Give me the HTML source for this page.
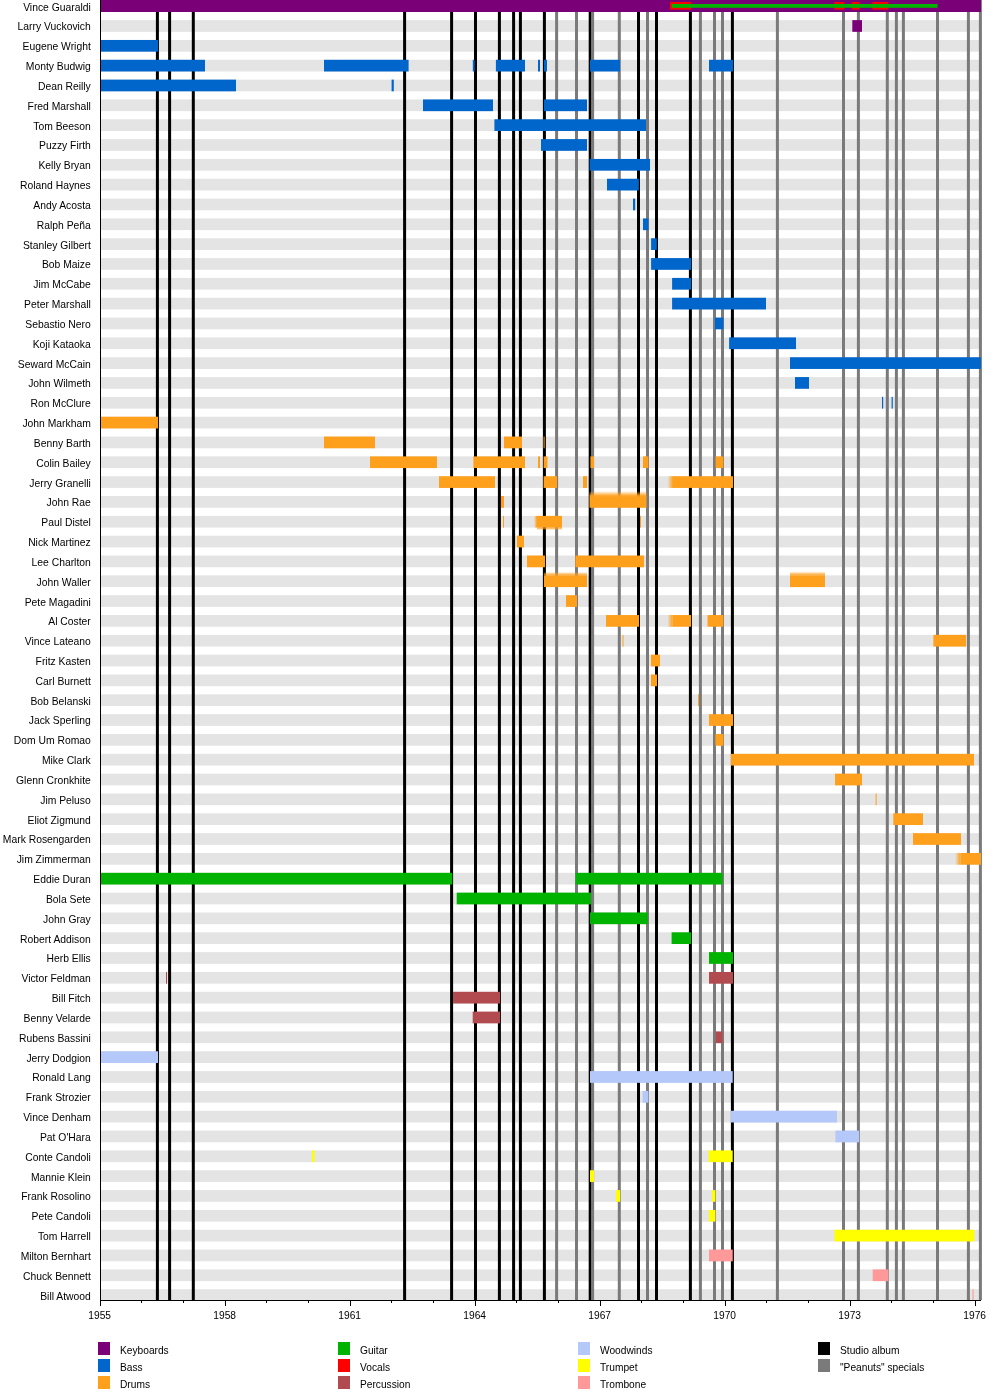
<!DOCTYPE html>
<html><head><meta charset="utf-8"><title>Vince Guaraldi Trio members timeline</title>
<style>
html,body{margin:0;padding:0;background:#fff;}
svg{display:block;will-change:transform;}
text{font-family:"Liberation Sans",Arial,sans-serif;fill:#000;}
</style></head><body>
<svg width="1000" height="1400" viewBox="0 0 1000 1400">
<rect x="0" y="0" width="1000" height="1400" fill="#fff"/>
<g fill="#e4e4e4">
<rect x="101" y="0.3" width="878" height="11.7"/>
<rect x="101" y="20.13" width="878" height="11.7"/>
<rect x="101" y="39.96" width="878" height="11.7"/>
<rect x="101" y="59.79" width="878" height="11.7"/>
<rect x="101" y="79.62" width="878" height="11.7"/>
<rect x="101" y="99.45" width="878" height="11.7"/>
<rect x="101" y="119.28" width="878" height="11.7"/>
<rect x="101" y="139.11" width="878" height="11.7"/>
<rect x="101" y="158.94" width="878" height="11.7"/>
<rect x="101" y="178.77" width="878" height="11.7"/>
<rect x="101" y="198.6" width="878" height="11.7"/>
<rect x="101" y="218.43" width="878" height="11.7"/>
<rect x="101" y="238.26" width="878" height="11.7"/>
<rect x="101" y="258.09" width="878" height="11.7"/>
<rect x="101" y="277.92" width="878" height="11.7"/>
<rect x="101" y="297.75" width="878" height="11.7"/>
<rect x="101" y="317.58" width="878" height="11.7"/>
<rect x="101" y="337.41" width="878" height="11.7"/>
<rect x="101" y="357.24" width="878" height="11.7"/>
<rect x="101" y="377.07" width="878" height="11.7"/>
<rect x="101" y="396.9" width="878" height="11.7"/>
<rect x="101" y="416.73" width="878" height="11.7"/>
<rect x="101" y="436.56" width="878" height="11.7"/>
<rect x="101" y="456.39" width="878" height="11.7"/>
<rect x="101" y="476.22" width="878" height="11.7"/>
<rect x="101" y="496.05" width="878" height="11.7"/>
<rect x="101" y="515.88" width="878" height="11.7"/>
<rect x="101" y="535.71" width="878" height="11.7"/>
<rect x="101" y="555.54" width="878" height="11.7"/>
<rect x="101" y="575.37" width="878" height="11.7"/>
<rect x="101" y="595.2" width="878" height="11.7"/>
<rect x="101" y="615.03" width="878" height="11.7"/>
<rect x="101" y="634.86" width="878" height="11.7"/>
<rect x="101" y="654.69" width="878" height="11.7"/>
<rect x="101" y="674.52" width="878" height="11.7"/>
<rect x="101" y="694.35" width="878" height="11.7"/>
<rect x="101" y="714.18" width="878" height="11.7"/>
<rect x="101" y="734.01" width="878" height="11.7"/>
<rect x="101" y="753.84" width="878" height="11.7"/>
<rect x="101" y="773.67" width="878" height="11.7"/>
<rect x="101" y="793.5" width="878" height="11.7"/>
<rect x="101" y="813.33" width="878" height="11.7"/>
<rect x="101" y="833.16" width="878" height="11.7"/>
<rect x="101" y="852.99" width="878" height="11.7"/>
<rect x="101" y="872.82" width="878" height="11.7"/>
<rect x="101" y="892.65" width="878" height="11.7"/>
<rect x="101" y="912.48" width="878" height="11.7"/>
<rect x="101" y="932.31" width="878" height="11.7"/>
<rect x="101" y="952.14" width="878" height="11.7"/>
<rect x="101" y="971.97" width="878" height="11.7"/>
<rect x="101" y="991.8" width="878" height="11.7"/>
<rect x="101" y="1011.63" width="878" height="11.7"/>
<rect x="101" y="1031.46" width="878" height="11.7"/>
<rect x="101" y="1051.29" width="878" height="11.7"/>
<rect x="101" y="1071.12" width="878" height="11.7"/>
<rect x="101" y="1090.95" width="878" height="11.7"/>
<rect x="101" y="1110.78" width="878" height="11.7"/>
<rect x="101" y="1130.61" width="878" height="11.7"/>
<rect x="101" y="1150.44" width="878" height="11.7"/>
<rect x="101" y="1170.27" width="878" height="11.7"/>
<rect x="101" y="1190.1" width="878" height="11.7"/>
<rect x="101" y="1209.93" width="878" height="11.7"/>
<rect x="101" y="1229.76" width="878" height="11.7"/>
<rect x="101" y="1249.59" width="878" height="11.7"/>
<rect x="101" y="1269.42" width="878" height="11.7"/>
<rect x="101" y="1289.25" width="878" height="11.7"/>
</g>
<g fill="#000">
<rect x="155.9" y="0" width="3" height="1300"/>
<rect x="168.1" y="0" width="3" height="1300"/>
<rect x="191.8" y="0" width="3" height="1300"/>
<rect x="403.1" y="0" width="3" height="1300"/>
<rect x="450.1" y="0" width="3" height="1300"/>
<rect x="474" y="0" width="3" height="1300"/>
<rect x="497.9" y="0" width="3" height="1300"/>
<rect x="512.1" y="0" width="3" height="1300"/>
<rect x="518.9" y="0" width="3" height="1300"/>
<rect x="542.9" y="0" width="3" height="1300"/>
<rect x="588.7" y="0" width="3" height="1300"/>
<rect x="637" y="0" width="3" height="1300"/>
<rect x="655" y="0" width="3" height="1300"/>
<rect x="688.9" y="0" width="3" height="1300"/>
<rect x="730.9" y="0" width="3" height="1300"/>
</g>
<g fill="#7a7a7a">
<rect x="555.1" y="0" width="3" height="1300"/>
<rect x="575" y="0" width="3" height="1300"/>
<rect x="591.1" y="0" width="3" height="1300"/>
<rect x="617.8" y="0" width="3" height="1300"/>
<rect x="646" y="0" width="3" height="1300"/>
<rect x="698.9" y="0" width="3" height="1300"/>
<rect x="713" y="0" width="3" height="1300"/>
<rect x="721" y="0" width="3" height="1300"/>
<rect x="775.9" y="0" width="3" height="1300"/>
<rect x="842" y="0" width="3" height="1300"/>
<rect x="856.9" y="0" width="3" height="1300"/>
<rect x="885.8" y="0" width="3" height="1300"/>
<rect x="894.9" y="0" width="3" height="1300"/>
<rect x="901.9" y="0" width="3" height="1300"/>
<rect x="936" y="0" width="3" height="1300"/>
<rect x="966.9" y="0" width="3" height="1300"/>
<rect x="978.9" y="0" width="3" height="1300"/>
</g>
<rect x="101" y="0" width="880" height="12" fill="#7a0078"/>
<rect x="852.3" y="20.13" width="9.7" height="11.7" fill="#7a0078"/>
<rect x="101" y="39.96" width="57" height="11.7" fill="#0066cc"/>
<rect x="101" y="59.79" width="104" height="11.7" fill="#0066cc"/>
<rect x="324" y="59.79" width="84.6" height="11.7" fill="#0066cc"/>
<rect x="472.8" y="59.79" width="1.8" height="11.7" fill="#0066cc"/>
<rect x="495.9" y="59.79" width="29.1" height="11.7" fill="#0066cc"/>
<rect x="538" y="59.79" width="2" height="11.7" fill="#0066cc"/>
<rect x="544" y="59.79" width="3" height="11.7" fill="#0066cc"/>
<rect x="590" y="59.79" width="30" height="11.7" fill="#0066cc"/>
<rect x="709" y="59.79" width="24" height="11.7" fill="#0066cc"/>
<rect x="101" y="79.62" width="135" height="11.7" fill="#0066cc"/>
<rect x="391.6" y="79.62" width="2.2" height="11.7" fill="#0066cc"/>
<rect x="423" y="99.45" width="70" height="11.7" fill="#0066cc"/>
<rect x="544" y="99.45" width="43" height="11.7" fill="#0066cc"/>
<rect x="494.4" y="119.28" width="151.6" height="11.7" fill="#0066cc"/>
<rect x="541" y="139.11" width="46" height="11.7" fill="#0066cc"/>
<rect x="589.6" y="158.94" width="60.4" height="11.7" fill="#0066cc"/>
<rect x="607" y="178.77" width="31.8" height="11.7" fill="#0066cc"/>
<rect x="633" y="198.6" width="2.2" height="11.7" fill="#0066cc"/>
<rect x="643" y="218.43" width="5.4" height="11.7" fill="#0066cc"/>
<rect x="651.1" y="238.26" width="5.7" height="11.7" fill="#0066cc"/>
<rect x="651.1" y="258.09" width="39.9" height="11.7" fill="#0066cc"/>
<rect x="672.1" y="277.92" width="18.9" height="11.7" fill="#0066cc"/>
<rect x="672.1" y="297.75" width="93.9" height="11.7" fill="#0066cc"/>
<rect x="715" y="317.58" width="8.4" height="11.7" fill="#0066cc"/>
<rect x="729.1" y="337.41" width="66.9" height="11.7" fill="#0066cc"/>
<rect x="790" y="357.24" width="191" height="11.7" fill="#0066cc"/>
<rect x="795" y="377.07" width="14" height="11.7" fill="#0066cc"/>
<rect x="882" y="396.9" width="1.2" height="11.7" fill="#0066cc"/>
<rect x="891.6" y="396.9" width="1.2" height="11.7" fill="#0066cc"/>
<rect x="101" y="416.73" width="57" height="11.7" fill="#ffa01c"/>
<rect x="324" y="436.56" width="51" height="11.7" fill="#ffa01c"/>
<rect x="504" y="436.56" width="18" height="11.7" fill="#ffa01c"/>
<rect x="543.6" y="436.56" width="1" height="11.7" fill="#ffa01c"/>
<rect x="370" y="456.39" width="67" height="11.7" fill="#ffa01c"/>
<rect x="473.4" y="456.39" width="51.6" height="11.7" fill="#ffa01c"/>
<rect x="538" y="456.39" width="2" height="11.7" fill="#ffa01c"/>
<rect x="543.6" y="456.39" width="3.9" height="11.7" fill="#ffa01c"/>
<rect x="590.4" y="456.39" width="3.6" height="11.7" fill="#ffa01c"/>
<rect x="643" y="456.39" width="5.4" height="11.7" fill="#ffa01c"/>
<rect x="715.6" y="456.39" width="7.8" height="11.7" fill="#ffa01c"/>
<rect x="439" y="476.22" width="56" height="11.7" fill="#ffa01c"/>
<rect x="543.6" y="476.22" width="13.4" height="11.7" fill="#ffa01c"/>
<rect x="583" y="476.22" width="4" height="11.7" fill="#ffa01c"/>
<rect x="673" y="476.22" width="60" height="11.7" fill="#ffa01c"/>
<rect x="501" y="496.05" width="3" height="11.7" fill="#ffa01c"/>
<rect x="589.5" y="496.05" width="57" height="11.7" fill="#ffa01c"/>
<rect x="503" y="515.88" width="1" height="11.7" fill="#ffa01c"/>
<rect x="537" y="515.88" width="25" height="11.7" fill="#ffa01c"/>
<rect x="640" y="515.88" width="1" height="11.7" fill="#ffa01c"/>
<rect x="517" y="535.71" width="7" height="11.7" fill="#ffa01c"/>
<rect x="527" y="555.54" width="18" height="11.7" fill="#ffa01c"/>
<rect x="575.4" y="555.54" width="68.6" height="11.7" fill="#ffa01c"/>
<rect x="544" y="575.37" width="43" height="11.7" fill="#ffa01c"/>
<rect x="790" y="575.37" width="35" height="11.7" fill="#ffa01c"/>
<rect x="566" y="595.2" width="11" height="11.7" fill="#ffa01c"/>
<rect x="606" y="615.03" width="33" height="11.7" fill="#ffa01c"/>
<rect x="672.5" y="615.03" width="18.5" height="11.7" fill="#ffa01c"/>
<rect x="707.5" y="615.03" width="15.9" height="11.7" fill="#ffa01c"/>
<rect x="622.5" y="634.86" width="1" height="11.7" fill="#ffa01c"/>
<rect x="933.4" y="634.86" width="32.6" height="11.7" fill="#ffa01c"/>
<rect x="651" y="654.69" width="9" height="11.7" fill="#ffa01c"/>
<rect x="651" y="674.52" width="6" height="11.7" fill="#ffa01c"/>
<rect x="698" y="694.35" width="1" height="11.7" fill="#ffa01c"/>
<rect x="709" y="714.18" width="24" height="11.7" fill="#ffa01c"/>
<rect x="715.4" y="734.01" width="8.1" height="11.7" fill="#ffa01c"/>
<rect x="731" y="753.84" width="243" height="11.7" fill="#ffa01c"/>
<rect x="835" y="773.67" width="27" height="11.7" fill="#ffa01c"/>
<rect x="875.6" y="793.5" width="1" height="11.7" fill="#ffa01c"/>
<rect x="893.3" y="813.33" width="29.7" height="11.7" fill="#ffa01c"/>
<rect x="913" y="833.16" width="48" height="11.7" fill="#ffa01c"/>
<rect x="960.5" y="852.99" width="20.5" height="11.7" fill="#ffa01c"/>
<rect x="101" y="872.82" width="351.3" height="11.7" fill="#00b300"/>
<rect x="575.7" y="872.82" width="146.9" height="11.7" fill="#00b300"/>
<rect x="456.7" y="892.65" width="134.3" height="11.7" fill="#00b300"/>
<rect x="590" y="912.48" width="57.8" height="11.7" fill="#00b300"/>
<rect x="671.6" y="932.31" width="19.4" height="11.7" fill="#00b300"/>
<rect x="709" y="952.14" width="24" height="11.7" fill="#00b300"/>
<rect x="166" y="971.97" width="1" height="11.7" fill="#b24b50"/>
<rect x="709" y="971.97" width="24" height="11.7" fill="#b24b50"/>
<rect x="453" y="991.8" width="47" height="11.7" fill="#b24b50"/>
<rect x="472.7" y="1011.63" width="27.3" height="11.7" fill="#b24b50"/>
<rect x="715.7" y="1031.46" width="6.8" height="11.7" fill="#b24b50"/>
<rect x="101" y="1051.29" width="57" height="11.7" fill="#b4c8fa"/>
<rect x="590" y="1071.12" width="142.7" height="11.7" fill="#b4c8fa"/>
<rect x="642.6" y="1090.95" width="5.8" height="11.7" fill="#b4c8fa"/>
<rect x="731" y="1110.78" width="106" height="11.7" fill="#b4c8fa"/>
<rect x="835.4" y="1130.61" width="23.8" height="11.7" fill="#b4c8fa"/>
<rect x="312" y="1150.44" width="2.5" height="11.7" fill="#ffff00"/>
<rect x="708.6" y="1150.44" width="24.1" height="11.7" fill="#ffff00"/>
<rect x="590" y="1170.27" width="4" height="11.7" fill="#ffff00"/>
<rect x="616" y="1190.1" width="4.2" height="11.7" fill="#ffff00"/>
<rect x="712" y="1190.1" width="3.4" height="11.7" fill="#ffff00"/>
<rect x="709" y="1209.93" width="6.4" height="11.7" fill="#ffff00"/>
<rect x="834.5" y="1229.76" width="139.9" height="11.7" fill="#ffff00"/>
<rect x="709" y="1249.59" width="23.7" height="11.7" fill="#ff9999"/>
<rect x="872.7" y="1269.42" width="15.7" height="11.7" fill="#ff9999"/>
<rect x="972.5" y="1289.25" width="1.1" height="11.7" fill="#ff9999"/>
<defs><linearGradient id="gL_kb" x1="0" y1="0" x2="1" y2="0"><stop offset="0" stop-color="#7a0078" stop-opacity="0"/><stop offset="1" stop-color="#7a0078" stop-opacity="1"/></linearGradient><linearGradient id="gT_kb" x1="0" y1="0" x2="0" y2="1"><stop offset="0" stop-color="#7a0078" stop-opacity="0"/><stop offset="1" stop-color="#7a0078" stop-opacity="1"/></linearGradient><linearGradient id="gB_kb" x1="0" y1="1" x2="0" y2="0"><stop offset="0" stop-color="#7a0078" stop-opacity="0"/><stop offset="1" stop-color="#7a0078" stop-opacity="1"/></linearGradient><linearGradient id="gL_bass" x1="0" y1="0" x2="1" y2="0"><stop offset="0" stop-color="#0066cc" stop-opacity="0"/><stop offset="1" stop-color="#0066cc" stop-opacity="1"/></linearGradient><linearGradient id="gT_bass" x1="0" y1="0" x2="0" y2="1"><stop offset="0" stop-color="#0066cc" stop-opacity="0"/><stop offset="1" stop-color="#0066cc" stop-opacity="1"/></linearGradient><linearGradient id="gB_bass" x1="0" y1="1" x2="0" y2="0"><stop offset="0" stop-color="#0066cc" stop-opacity="0"/><stop offset="1" stop-color="#0066cc" stop-opacity="1"/></linearGradient><linearGradient id="gL_drums" x1="0" y1="0" x2="1" y2="0"><stop offset="0" stop-color="#ffa01c" stop-opacity="0"/><stop offset="1" stop-color="#ffa01c" stop-opacity="1"/></linearGradient><linearGradient id="gT_drums" x1="0" y1="0" x2="0" y2="1"><stop offset="0" stop-color="#ffa01c" stop-opacity="0"/><stop offset="1" stop-color="#ffa01c" stop-opacity="1"/></linearGradient><linearGradient id="gB_drums" x1="0" y1="1" x2="0" y2="0"><stop offset="0" stop-color="#ffa01c" stop-opacity="0"/><stop offset="1" stop-color="#ffa01c" stop-opacity="1"/></linearGradient><linearGradient id="gL_guitar" x1="0" y1="0" x2="1" y2="0"><stop offset="0" stop-color="#00b300" stop-opacity="0"/><stop offset="1" stop-color="#00b300" stop-opacity="1"/></linearGradient><linearGradient id="gT_guitar" x1="0" y1="0" x2="0" y2="1"><stop offset="0" stop-color="#00b300" stop-opacity="0"/><stop offset="1" stop-color="#00b300" stop-opacity="1"/></linearGradient><linearGradient id="gB_guitar" x1="0" y1="1" x2="0" y2="0"><stop offset="0" stop-color="#00b300" stop-opacity="0"/><stop offset="1" stop-color="#00b300" stop-opacity="1"/></linearGradient><linearGradient id="gL_vocals" x1="0" y1="0" x2="1" y2="0"><stop offset="0" stop-color="#ff0000" stop-opacity="0"/><stop offset="1" stop-color="#ff0000" stop-opacity="1"/></linearGradient><linearGradient id="gT_vocals" x1="0" y1="0" x2="0" y2="1"><stop offset="0" stop-color="#ff0000" stop-opacity="0"/><stop offset="1" stop-color="#ff0000" stop-opacity="1"/></linearGradient><linearGradient id="gB_vocals" x1="0" y1="1" x2="0" y2="0"><stop offset="0" stop-color="#ff0000" stop-opacity="0"/><stop offset="1" stop-color="#ff0000" stop-opacity="1"/></linearGradient><linearGradient id="gL_perc" x1="0" y1="0" x2="1" y2="0"><stop offset="0" stop-color="#b24b50" stop-opacity="0"/><stop offset="1" stop-color="#b24b50" stop-opacity="1"/></linearGradient><linearGradient id="gT_perc" x1="0" y1="0" x2="0" y2="1"><stop offset="0" stop-color="#b24b50" stop-opacity="0"/><stop offset="1" stop-color="#b24b50" stop-opacity="1"/></linearGradient><linearGradient id="gB_perc" x1="0" y1="1" x2="0" y2="0"><stop offset="0" stop-color="#b24b50" stop-opacity="0"/><stop offset="1" stop-color="#b24b50" stop-opacity="1"/></linearGradient><linearGradient id="gL_wood" x1="0" y1="0" x2="1" y2="0"><stop offset="0" stop-color="#b4c8fa" stop-opacity="0"/><stop offset="1" stop-color="#b4c8fa" stop-opacity="1"/></linearGradient><linearGradient id="gT_wood" x1="0" y1="0" x2="0" y2="1"><stop offset="0" stop-color="#b4c8fa" stop-opacity="0"/><stop offset="1" stop-color="#b4c8fa" stop-opacity="1"/></linearGradient><linearGradient id="gB_wood" x1="0" y1="1" x2="0" y2="0"><stop offset="0" stop-color="#b4c8fa" stop-opacity="0"/><stop offset="1" stop-color="#b4c8fa" stop-opacity="1"/></linearGradient><linearGradient id="gL_trumpet" x1="0" y1="0" x2="1" y2="0"><stop offset="0" stop-color="#ffff00" stop-opacity="0"/><stop offset="1" stop-color="#ffff00" stop-opacity="1"/></linearGradient><linearGradient id="gT_trumpet" x1="0" y1="0" x2="0" y2="1"><stop offset="0" stop-color="#ffff00" stop-opacity="0"/><stop offset="1" stop-color="#ffff00" stop-opacity="1"/></linearGradient><linearGradient id="gB_trumpet" x1="0" y1="1" x2="0" y2="0"><stop offset="0" stop-color="#ffff00" stop-opacity="0"/><stop offset="1" stop-color="#ffff00" stop-opacity="1"/></linearGradient><linearGradient id="gL_trombone" x1="0" y1="0" x2="1" y2="0"><stop offset="0" stop-color="#ff9999" stop-opacity="0"/><stop offset="1" stop-color="#ff9999" stop-opacity="1"/></linearGradient><linearGradient id="gT_trombone" x1="0" y1="0" x2="0" y2="1"><stop offset="0" stop-color="#ff9999" stop-opacity="0"/><stop offset="1" stop-color="#ff9999" stop-opacity="1"/></linearGradient><linearGradient id="gB_trombone" x1="0" y1="1" x2="0" y2="0"><stop offset="0" stop-color="#ff9999" stop-opacity="0"/><stop offset="1" stop-color="#ff9999" stop-opacity="1"/></linearGradient><linearGradient id="gL_black" x1="0" y1="0" x2="1" y2="0"><stop offset="0" stop-color="#000000" stop-opacity="0"/><stop offset="1" stop-color="#000000" stop-opacity="1"/></linearGradient><linearGradient id="gT_black" x1="0" y1="0" x2="0" y2="1"><stop offset="0" stop-color="#000000" stop-opacity="0"/><stop offset="1" stop-color="#000000" stop-opacity="1"/></linearGradient><linearGradient id="gB_black" x1="0" y1="1" x2="0" y2="0"><stop offset="0" stop-color="#000000" stop-opacity="0"/><stop offset="1" stop-color="#000000" stop-opacity="1"/></linearGradient><linearGradient id="gL_gray" x1="0" y1="0" x2="1" y2="0"><stop offset="0" stop-color="#7a7a7a" stop-opacity="0"/><stop offset="1" stop-color="#7a7a7a" stop-opacity="1"/></linearGradient><linearGradient id="gT_gray" x1="0" y1="0" x2="0" y2="1"><stop offset="0" stop-color="#7a7a7a" stop-opacity="0"/><stop offset="1" stop-color="#7a7a7a" stop-opacity="1"/></linearGradient><linearGradient id="gB_gray" x1="0" y1="1" x2="0" y2="0"><stop offset="0" stop-color="#7a7a7a" stop-opacity="0"/><stop offset="1" stop-color="#7a7a7a" stop-opacity="1"/></linearGradient><linearGradient id="gL_stripe" x1="0" y1="0" x2="1" y2="0"><stop offset="0" stop-color="#e4e4e4" stop-opacity="0"/><stop offset="1" stop-color="#e4e4e4" stop-opacity="1"/></linearGradient><linearGradient id="gT_stripe" x1="0" y1="0" x2="0" y2="1"><stop offset="0" stop-color="#e4e4e4" stop-opacity="0"/><stop offset="1" stop-color="#e4e4e4" stop-opacity="1"/></linearGradient><linearGradient id="gB_stripe" x1="0" y1="1" x2="0" y2="0"><stop offset="0" stop-color="#e4e4e4" stop-opacity="0"/><stop offset="1" stop-color="#e4e4e4" stop-opacity="1"/></linearGradient></defs>
<rect x="667.5" y="476.22" width="5.5" height="11.7" fill="url(#gL_drums)"/>
<rect x="667.5" y="615.03" width="5" height="11.7" fill="url(#gL_drums)"/>
<rect x="955" y="852.99" width="5.5" height="11.7" fill="url(#gL_drums)"/>
<rect x="589.5" y="491.05" width="57" height="5" fill="url(#gT_drums)"/>
<rect x="534" y="515.88" width="3" height="11.7" fill="url(#gL_drums)"/>
<rect x="537" y="527.58" width="25" height="2.5" fill="url(#gB_drums)"/>
<rect x="544" y="571.87" width="43" height="3.5" fill="url(#gT_drums)"/>
<rect x="790" y="571.37" width="35" height="4" fill="url(#gT_drums)"/>
<rect x="670" y="2" width="21.2" height="7.6" fill="#ff0000"/>
<rect x="834.4" y="2" width="9.6" height="7.6" fill="#ff0000"/>
<rect x="851.8" y="2" width="7.8" height="7.6" fill="#ff0000"/>
<rect x="872.4" y="2" width="16" height="7.6" fill="#ff0000"/>
<rect x="671.8" y="4" width="265.8" height="3.8" fill="#00b300"/>
<rect x="100" y="0" width="1" height="1301" fill="#000"/>
<rect x="100" y="1300" width="881" height="1" fill="#000"/>
<rect x="100" y="1300" width="1" height="6" fill="#000"/>
<text x="99.7" y="1318.8" font-size="10.2" text-anchor="middle">1955</text>
<rect x="141" y="1300" width="1" height="3" fill="#000"/>
<rect x="183" y="1300" width="1" height="3" fill="#000"/>
<rect x="225" y="1300" width="1" height="6" fill="#000"/>
<text x="224.7" y="1318.8" font-size="10.2" text-anchor="middle">1958</text>
<rect x="266" y="1300" width="1" height="3" fill="#000"/>
<rect x="308" y="1300" width="1" height="3" fill="#000"/>
<rect x="350" y="1300" width="1" height="6" fill="#000"/>
<text x="349.7" y="1318.8" font-size="10.2" text-anchor="middle">1961</text>
<rect x="391" y="1300" width="1" height="3" fill="#000"/>
<rect x="433" y="1300" width="1" height="3" fill="#000"/>
<rect x="475" y="1300" width="1" height="6" fill="#000"/>
<text x="474.7" y="1318.8" font-size="10.2" text-anchor="middle">1964</text>
<rect x="516" y="1300" width="1" height="3" fill="#000"/>
<rect x="558" y="1300" width="1" height="3" fill="#000"/>
<rect x="600" y="1300" width="1" height="6" fill="#000"/>
<text x="599.7" y="1318.8" font-size="10.2" text-anchor="middle">1967</text>
<rect x="641" y="1300" width="1" height="3" fill="#000"/>
<rect x="683" y="1300" width="1" height="3" fill="#000"/>
<rect x="725" y="1300" width="1" height="6" fill="#000"/>
<text x="724.71" y="1318.8" font-size="10.2" text-anchor="middle">1970</text>
<rect x="766" y="1300" width="1" height="3" fill="#000"/>
<rect x="808" y="1300" width="1" height="3" fill="#000"/>
<rect x="850" y="1300" width="1" height="6" fill="#000"/>
<text x="849.71" y="1318.8" font-size="10.2" text-anchor="middle">1973</text>
<rect x="891" y="1300" width="1" height="3" fill="#000"/>
<rect x="933" y="1300" width="1" height="3" fill="#000"/>
<rect x="975" y="1300" width="1" height="6" fill="#000"/>
<text x="974.71" y="1318.8" font-size="10.2" text-anchor="middle">1976</text>
<text x="90.8" y="10.6" font-size="10.35" text-anchor="end">Vince Guaraldi</text>
<text x="90.8" y="30.43" font-size="10.35" text-anchor="end">Larry Vuckovich</text>
<text x="90.8" y="50.26" font-size="10.35" text-anchor="end">Eugene Wright</text>
<text x="90.8" y="70.09" font-size="10.35" text-anchor="end">Monty Budwig</text>
<text x="90.8" y="89.92" font-size="10.35" text-anchor="end">Dean Reilly</text>
<text x="90.8" y="109.75" font-size="10.35" text-anchor="end">Fred Marshall</text>
<text x="90.8" y="129.58" font-size="10.35" text-anchor="end">Tom Beeson</text>
<text x="90.8" y="149.41" font-size="10.35" text-anchor="end">Puzzy Firth</text>
<text x="90.8" y="169.24" font-size="10.35" text-anchor="end">Kelly Bryan</text>
<text x="90.8" y="189.07" font-size="10.35" text-anchor="end">Roland Haynes</text>
<text x="90.8" y="208.9" font-size="10.35" text-anchor="end">Andy Acosta</text>
<text x="90.8" y="228.73" font-size="10.35" text-anchor="end">Ralph Peña</text>
<text x="90.8" y="248.56" font-size="10.35" text-anchor="end">Stanley Gilbert</text>
<text x="90.8" y="268.39" font-size="10.35" text-anchor="end">Bob Maize</text>
<text x="90.8" y="288.22" font-size="10.35" text-anchor="end">Jim McCabe</text>
<text x="90.8" y="308.05" font-size="10.35" text-anchor="end">Peter Marshall</text>
<text x="90.8" y="327.88" font-size="10.35" text-anchor="end">Sebastio Nero</text>
<text x="90.8" y="347.71" font-size="10.35" text-anchor="end">Koji Kataoka</text>
<text x="90.8" y="367.54" font-size="10.35" text-anchor="end">Seward McCain</text>
<text x="90.8" y="387.37" font-size="10.35" text-anchor="end">John Wilmeth</text>
<text x="90.8" y="407.2" font-size="10.35" text-anchor="end">Ron McClure</text>
<text x="90.8" y="427.03" font-size="10.35" text-anchor="end">John Markham</text>
<text x="90.8" y="446.86" font-size="10.35" text-anchor="end">Benny Barth</text>
<text x="90.8" y="466.69" font-size="10.35" text-anchor="end">Colin Bailey</text>
<text x="90.8" y="486.52" font-size="10.35" text-anchor="end">Jerry Granelli</text>
<text x="90.8" y="506.35" font-size="10.35" text-anchor="end">John Rae</text>
<text x="90.8" y="526.18" font-size="10.35" text-anchor="end">Paul Distel</text>
<text x="90.8" y="546.01" font-size="10.35" text-anchor="end">Nick Martinez</text>
<text x="90.8" y="565.84" font-size="10.35" text-anchor="end">Lee Charlton</text>
<text x="90.8" y="585.67" font-size="10.35" text-anchor="end">John Waller</text>
<text x="90.8" y="605.5" font-size="10.35" text-anchor="end">Pete Magadini</text>
<text x="90.8" y="625.33" font-size="10.35" text-anchor="end">Al Coster</text>
<text x="90.8" y="645.16" font-size="10.35" text-anchor="end">Vince Lateano</text>
<text x="90.8" y="664.99" font-size="10.35" text-anchor="end">Fritz Kasten</text>
<text x="90.8" y="684.82" font-size="10.35" text-anchor="end">Carl Burnett</text>
<text x="90.8" y="704.65" font-size="10.35" text-anchor="end">Bob Belanski</text>
<text x="90.8" y="724.48" font-size="10.35" text-anchor="end">Jack Sperling</text>
<text x="90.8" y="744.31" font-size="10.35" text-anchor="end">Dom Um Romao</text>
<text x="90.8" y="764.14" font-size="10.35" text-anchor="end">Mike Clark</text>
<text x="90.8" y="783.97" font-size="10.35" text-anchor="end">Glenn Cronkhite</text>
<text x="90.8" y="803.8" font-size="10.35" text-anchor="end">Jim Peluso</text>
<text x="90.8" y="823.63" font-size="10.35" text-anchor="end">Eliot Zigmund</text>
<text x="90.8" y="843.46" font-size="10.35" text-anchor="end">Mark Rosengarden</text>
<text x="90.8" y="863.29" font-size="10.35" text-anchor="end">Jim Zimmerman</text>
<text x="90.8" y="883.12" font-size="10.35" text-anchor="end">Eddie Duran</text>
<text x="90.8" y="902.95" font-size="10.35" text-anchor="end">Bola Sete</text>
<text x="90.8" y="922.78" font-size="10.35" text-anchor="end">John Gray</text>
<text x="90.8" y="942.61" font-size="10.35" text-anchor="end">Robert Addison</text>
<text x="90.8" y="962.44" font-size="10.35" text-anchor="end">Herb Ellis</text>
<text x="90.8" y="982.27" font-size="10.35" text-anchor="end">Victor Feldman</text>
<text x="90.8" y="1002.1" font-size="10.35" text-anchor="end">Bill Fitch</text>
<text x="90.8" y="1021.93" font-size="10.35" text-anchor="end">Benny Velarde</text>
<text x="90.8" y="1041.76" font-size="10.35" text-anchor="end">Rubens Bassini</text>
<text x="90.8" y="1061.59" font-size="10.35" text-anchor="end">Jerry Dodgion</text>
<text x="90.8" y="1081.42" font-size="10.35" text-anchor="end">Ronald Lang</text>
<text x="90.8" y="1101.25" font-size="10.35" text-anchor="end">Frank Strozier</text>
<text x="90.8" y="1121.08" font-size="10.35" text-anchor="end">Vince Denham</text>
<text x="90.8" y="1140.91" font-size="10.35" text-anchor="end">Pat O&#39;Hara</text>
<text x="90.8" y="1160.74" font-size="10.35" text-anchor="end">Conte Candoli</text>
<text x="90.8" y="1180.57" font-size="10.35" text-anchor="end">Mannie Klein</text>
<text x="90.8" y="1200.4" font-size="10.35" text-anchor="end">Frank Rosolino</text>
<text x="90.8" y="1220.23" font-size="10.35" text-anchor="end">Pete Candoli</text>
<text x="90.8" y="1240.06" font-size="10.35" text-anchor="end">Tom Harrell</text>
<text x="90.8" y="1259.89" font-size="10.35" text-anchor="end">Milton Bernhart</text>
<text x="90.8" y="1279.72" font-size="10.35" text-anchor="end">Chuck Bennett</text>
<text x="90.8" y="1299.55" font-size="10.35" text-anchor="end">Bill Atwood</text>
<rect x="98" y="1342" width="12" height="13" fill="#7a0078"/>
<text x="120" y="1354" font-size="10.2">Keyboards</text>
<rect x="98" y="1359" width="12" height="13" fill="#0066cc"/>
<text x="120" y="1371" font-size="10.2">Bass</text>
<rect x="98" y="1376" width="12" height="13" fill="#ffa01c"/>
<text x="120" y="1388" font-size="10.2">Drums</text>
<rect x="338" y="1342" width="12" height="13" fill="#00b300"/>
<text x="360" y="1354" font-size="10.2">Guitar</text>
<rect x="338" y="1359" width="12" height="13" fill="#ff0000"/>
<text x="360" y="1371" font-size="10.2">Vocals</text>
<rect x="338" y="1376" width="12" height="13" fill="#b24b50"/>
<text x="360" y="1388" font-size="10.2">Percussion</text>
<rect x="578" y="1342" width="12" height="13" fill="#b4c8fa"/>
<text x="600" y="1354" font-size="10.2">Woodwinds</text>
<rect x="578" y="1359" width="12" height="13" fill="#ffff00"/>
<text x="600" y="1371" font-size="10.2">Trumpet</text>
<rect x="578" y="1376" width="12" height="13" fill="#ff9999"/>
<text x="600" y="1388" font-size="10.2">Trombone</text>
<rect x="818" y="1342" width="12" height="13" fill="#000000"/>
<text x="840" y="1354" font-size="10.2">Studio album</text>
<rect x="818" y="1359" width="12" height="13" fill="#7a7a7a"/>
<text x="840" y="1371" font-size="10.2">&quot;Peanuts&quot; specials</text>
</svg>
</body></html>
